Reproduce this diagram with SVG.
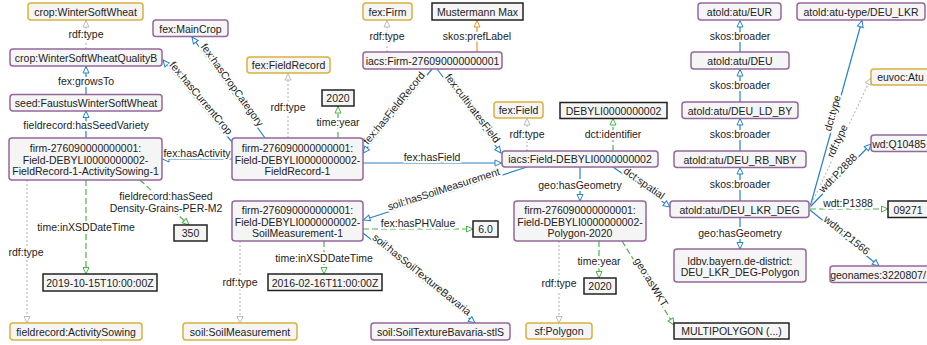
<svg xmlns="http://www.w3.org/2000/svg" width="927" height="345" viewBox="0 0 927 345">
<style>
text{font-family:"Liberation Sans",Arial,sans-serif;font-size:10.5px;fill:#222;text-anchor:middle;dominant-baseline:central}
.cls{fill:#f5f5f5;stroke:#d9b13c;stroke-width:1.5}
.ins{fill:#f5f5f5;stroke:#94679a;stroke-width:1.5}
.lit{fill:#f5f5f5;stroke:#222;stroke-width:1.5}
.lbl{stroke:#fff;stroke-width:4;stroke-linejoin:round;paint-order:stroke}
.ob{fill:none;stroke:#2682c4;stroke-width:1.2;marker-end:url(#aB)}
.dt{fill:none;stroke:#4ab34a;stroke-width:1.2;stroke-dasharray:6 3;marker-end:url(#aG)}
.ty{fill:none;stroke:#bdbdbd;stroke-width:1.2;stroke-dasharray:2 2;marker-end:url(#aY)}
.or{fill:none;stroke:#e8962e;stroke-width:1.2;marker-end:url(#aO)}
</style>
<defs>
<marker id="aB" markerUnits="userSpaceOnUse" markerWidth="10" markerHeight="10" refX="7.5" refY="4" orient="auto"><path d="M1,1 L7.5,4 L1,7 Z" fill="#fff" stroke="#2682c4" stroke-width="1"/></marker>
<marker id="aG" markerUnits="userSpaceOnUse" markerWidth="10" markerHeight="10" refX="7.5" refY="4" orient="auto"><path d="M1,1 L7.5,4 L1,7 Z" fill="#fff" stroke="#4ab34a" stroke-width="1"/></marker>
<marker id="aY" markerUnits="userSpaceOnUse" markerWidth="10" markerHeight="10" refX="7.5" refY="4" orient="auto"><path d="M1,1 L7.5,4 L1,7 Z" fill="#fff" stroke="#bdbdbd" stroke-width="1"/></marker>
<marker id="aO" markerUnits="userSpaceOnUse" markerWidth="10" markerHeight="10" refX="7.5" refY="4" orient="auto"><path d="M1,1 L7.5,4 L1,7 Z" fill="#fff" stroke="#e8962e" stroke-width="1"/></marker>
</defs>
<rect width="927" height="345" fill="#fff"/>

<g id="connectors">
<path class="ob" d="M86,95 L86,66.5"/>
<path class="ob" d="M86,138 L86,111"/>
<path class="ob" d="M232,159 L162.5,159"/>
<path class="ob" d="M232,142 L163,60"/>
<path class="ob" d="M265,138 L192,37"/>
<path class="ob" d="M432,69 L363,153"/>
<path class="ob" d="M437,69 L501,153"/>
<path class="ob" d="M363,163 L501.5,163"/>
<path class="ob" d="M527,167 L363.5,220"/>
<path class="ob" d="M363,233 L475,323"/>
<path class="ob" d="M580,167 L580,201"/>
<path class="ob" d="M613,167 L670,207"/>
<path class="ob" d="M740,52 L740,20.5"/>
<path class="ob" d="M740,102 L740,69.5"/>
<path class="ob" d="M740,151 L740,118.5"/>
<path class="ob" d="M740,201 L740,167.5"/>
<path class="ob" d="M740,217 L740,249"/>
<path class="ob" d="M810,207 L862,20.5"/>
<path class="ob" d="M810,207 L871,144"/>
<path class="ob" d="M810,210 L879,266"/>
<path class="ty" d="M86,49 L86,20.5"/>
<path class="ty" d="M288,138 L288,73.5"/>
<path class="ty" d="M387,52 L387,20.5"/>
<path class="ty" d="M527,151 L527,118.5"/>
<path class="ty" d="M27,180 L27,323"/>
<path class="ty" d="M240,241 L240,323"/>
<path class="ty" d="M559,241 L559,323"/>
<path class="ty" d="M810,207 L871,78"/>
<path class="dt" d="M338,138 L338,106.5"/>
<path class="dt" d="M613,151 L613,118.5"/>
<path class="dt" d="M86,180 L86,274"/>
<path class="dt" d="M140,180 L189,225"/>
<path class="dt" d="M324,241 L324,274"/>
<path class="dt" d="M363,229 L473,229"/>
<path class="dt" d="M599,241 L599,278"/>
<path class="dt" d="M622,241 L674,325"/>
<path class="dt" d="M810,209 L888,209"/>
<path class="or" d="M477,52 L477,20.5"/>

<g class="labels">
<text class="lbl" x="86" y="34">rdf:type</text>
<text class="lbl" x="86" y="81">fex:growsTo</text>
<text class="lbl" x="86" y="125">fieldrecord:hasSeedVariety</text>
<text class="lbl" x="197" y="153">fex:hasActivity</text>
<text class="lbl" transform="translate(197.5,101) rotate(49.9)" x="0" y="-5">fex:hasCurrentCrop</text>
<text class="lbl" transform="translate(228.5,87.5) rotate(54.2)" x="0" y="-5">fex:hasCropCategory</text>
<text class="lbl" x="387" y="36">rdf:type</text>
<text class="lbl" x="477" y="36">skos:prefLabel</text>
<text class="lbl" x="288" y="107">rdf:type</text>
<text class="lbl" x="338" y="122">time:year</text>
<text class="lbl" transform="translate(397.5,111) rotate(-50.6)" x="0" y="-5">fex:hasFieldRecord</text>
<text class="lbl" transform="translate(469,111) rotate(52.7)" x="0" y="-5">fex:cultivatesField</text>
<text class="lbl" x="432" y="157">fex:hasField</text>
<text class="lbl" x="527" y="134">rdf:type</text>
<text class="lbl" x="613" y="134">dct:identifier</text>
<text class="lbl" transform="translate(445,193.5) rotate(-17.9)" x="0" y="-5">soil:hasSoilMeasurement</text>
<text class="lbl" x="418" y="223">fex:hasPHValue</text>
<text class="lbl" transform="translate(419,278) rotate(38.8)" x="0" y="-5">soil:hasSoilTextureBavaria</text>
<text class="lbl" x="580" y="185">geo:hasGeometry</text>
<text class="lbl" transform="translate(641.5,187) rotate(35)" x="0" y="-5">dct:spatial</text>
<text class="lbl" x="26" y="252">rdf:type</text>
<text class="lbl" x="86" y="227">time:inXSDDateTime</text>
<text class="lbl" x="166" y="196">fieldrecord:hasSeed</text>
<text class="lbl" x="166" y="208">Density-Grains-PER-M2</text>
<text class="lbl" x="324" y="258">time:inXSDDateTime</text>
<text class="lbl" x="240" y="282">rdf:type</text>
<text class="lbl" x="599" y="261">time:year</text>
<text class="lbl" x="559" y="283">rdf:type</text>
<text class="lbl" transform="translate(648,284) rotate(58.8)" x="0" y="-4">geo:asWKT</text>
<text class="lbl" x="740" y="36">skos:broader</text>
<text class="lbl" x="740" y="85">skos:broader</text>
<text class="lbl" x="740" y="134">skos:broader</text>
<text class="lbl" x="740" y="184">skos:broader</text>
<text class="lbl" x="740" y="233">geo:hasGeometry</text>
<text class="lbl" transform="translate(836,114) rotate(-74.4)" x="0" y="-4">dct:type</text>
<text class="lbl" transform="translate(840.5,142.5) rotate(-64.7)" x="0" y="-4">rdf:type</text>
<text class="lbl" transform="translate(840.5,175.5) rotate(-45.9)" x="0" y="-4">wdt:P2888</text>
<text class="lbl" x="848" y="203">wdt:P1388</text>
<text class="lbl" transform="translate(844.5,238) rotate(39.1)" x="0" y="-4">wdtn:P1566</text>
</g>
</g>

<g id="n-crop-wsw"><rect class="cls" x="28" y="3" width="115" height="17" rx="3"/><text x="85.5" y="11.5">crop:WinterSoftWheat</text></g>
<g id="n-fex-fieldrecord"><rect class="cls" x="247" y="57" width="83" height="16" rx="3"/><text x="288.5" y="65">fex:FieldRecord</text></g>
<g id="n-fex-firm"><rect class="cls" x="363" y="3" width="49" height="17" rx="3"/><text x="387.5" y="11.5">fex:Firm</text></g>
<g id="n-fex-field"><rect class="cls" x="494" y="102" width="49" height="16" rx="3"/><text x="518.5" y="110">fex:Field</text></g>
<g id="n-euvoc-atu"><rect class="cls" x="871" y="69" width="59" height="16" rx="3"/><text x="900.5" y="77">euvoc:Atu</text></g>
<g id="n-activitysowing"><rect class="cls" x="10" y="323" width="132" height="17" rx="3"/><text x="76" y="331.5">fieldrecord:ActivitySowing</text></g>
<g id="n-soilmeasurement"><rect class="cls" x="183" y="323" width="114" height="17" rx="3"/><text x="240" y="331.5">soil:SoilMeasurement</text></g>
<g id="n-sf-polygon"><rect class="cls" x="526" y="323" width="66" height="16" rx="3"/><text x="559" y="331">sf:Polygon</text></g>

<g id="n-wswqb"><rect class="ins" x="10" y="49" width="152" height="17" rx="3"/><text x="86" y="57.5">crop:WinterSoftWheatQualityB</text></g>
<g id="n-faustus"><rect class="ins" x="10" y="94.5" width="152" height="16.5" rx="3"/><text x="86" y="103">seed:FaustusWinterSoftWheat</text></g>
<g id="n-maincrop"><rect class="ins" x="153" y="20" width="75" height="16.5" rx="3"/><text x="190.5" y="28.5">fex:MainCrop</text></g>
<g id="n-activity"><rect class="ins" x="9" y="138" width="153" height="42" rx="3"/><text x="85.5" y="148">firm-276090000000001:</text><text x="85.5" y="159.5">Field-DEBYLI0000000002-</text><text x="85.5" y="171">FieldRecord-1-ActivitySowing-1</text></g>
<g id="n-fieldrecord1"><rect class="ins" x="232" y="138" width="131" height="42" rx="3"/><text x="297.5" y="148">firm-276090000000001:</text><text x="297.5" y="159.5">Field-DEBYLI0000000002-</text><text x="297.5" y="171">FieldRecord-1</text></g>
<g id="n-firm"><rect class="ins" x="363" y="52" width="139" height="17" rx="3"/><text x="432.5" y="60.5">iacs:Firm-276090000000001</text></g>
<g id="n-field"><rect class="ins" x="502" y="151" width="156" height="16" rx="3"/><text x="580" y="159">iacs:Field-DEBYLI0000000002</text></g>
<g id="n-soilmeas1"><rect class="ins" x="232" y="201" width="131" height="40" rx="3"/><text x="297.5" y="210">firm-276090000000001:</text><text x="297.5" y="221.5">Field-DEBYLI0000000002-</text><text x="297.5" y="233">SoilMeasurement-1</text></g>
<g id="n-polygon2020"><rect class="ins" x="514" y="201" width="132" height="40" rx="3"/><text x="580" y="210">firm-276090000000001:</text><text x="580" y="221.5">Field-DEBYLI0000000002-</text><text x="580" y="233">Polygon-2020</text></g>
<g id="n-soiltexture"><rect class="ins" x="371" y="323" width="139" height="17" rx="3"/><text x="440.5" y="331.5">soil:SoilTextureBavaria-stlS</text></g>
<g id="n-eur"><rect class="ins" x="698" y="3" width="83" height="17" rx="3"/><text x="739.5" y="11.5">atold:atu/EUR</text></g>
<g id="n-atutype"><rect class="ins" x="797" y="3" width="128" height="17" rx="3"/><text x="861" y="11.5">atold:atu-type/DEU_LKR</text></g>
<g id="n-deu"><rect class="ins" x="691" y="52" width="98" height="17" rx="3"/><text x="740" y="60.5">atold:atu/DEU</text></g>
<g id="n-ldby"><rect class="ins" x="682" y="102" width="116" height="16.5" rx="3"/><text x="740" y="110.5">atold:atu/DEU_LD_BY</text></g>
<g id="n-rbnby"><rect class="ins" x="674" y="151" width="132" height="16.5" rx="3"/><text x="740" y="159.5">atold:atu/DEU_RB_NBY</text></g>
<g id="n-lkrdeg"><rect class="ins" x="670" y="201" width="139" height="16.5" rx="3"/><text x="739.5" y="209.5">atold:atu/DEU_LKR_DEG</text></g>
<g id="n-ldbv"><rect class="ins" x="674" y="249" width="132" height="33" rx="3"/><text x="740" y="260.5">ldbv.bayern.de-district:</text><text x="740" y="272">DEU_LKR_DEG-Polygon</text></g>
<g id="n-wd"><rect class="ins" x="871" y="135" width="60" height="16.5" rx="3"/><text x="899" y="143.5">wd:Q10485</text></g>
<g id="n-geonames"><rect class="ins" x="830" y="266" width="104" height="16.5" rx="3"/><text x="878" y="274.5">geonames:3220807/</text></g>

<g id="l-mustermann"><rect class="lit" x="432" y="3" width="91" height="17"/><text x="477.5" y="11.5">Mustermann Max</text></g>
<g id="l-2020a"><rect class="lit" x="322" y="90" width="32" height="16"/><text x="338" y="98">2020</text></g>
<g id="l-debyli"><rect class="lit" x="560" y="102.5" width="107" height="16"/><text x="613.5" y="110.5">DEBYLI0000000002</text></g>
<g id="l-350"><rect class="lit" x="174" y="225" width="33" height="16"/><text x="190.5" y="233">350</text></g>
<g id="l-2019"><rect class="lit" x="43" y="274" width="114" height="17"/><text x="100" y="282.5">2019-10-15T10:00:00Z</text></g>
<g id="l-2016"><rect class="lit" x="268" y="274" width="114" height="16.5"/><text x="325" y="282.5">2016-02-16T11:00:00Z</text></g>
<g id="l-ph"><rect class="lit" x="473" y="221" width="25" height="16"/><text x="485.5" y="229">6.0</text></g>
<g id="l-2020b"><rect class="lit" x="584" y="278" width="32" height="16"/><text x="600" y="286">2020</text></g>
<g id="l-multipolygon"><rect class="lit" x="674" y="323" width="115" height="16"/><text x="731.5" y="331">MULTIPOLYGON (...)</text></g>
<g id="l-09271"><rect class="lit" x="888" y="201" width="40" height="16.5"/><text x="908" y="209.5">09271</text></g>
</svg>
